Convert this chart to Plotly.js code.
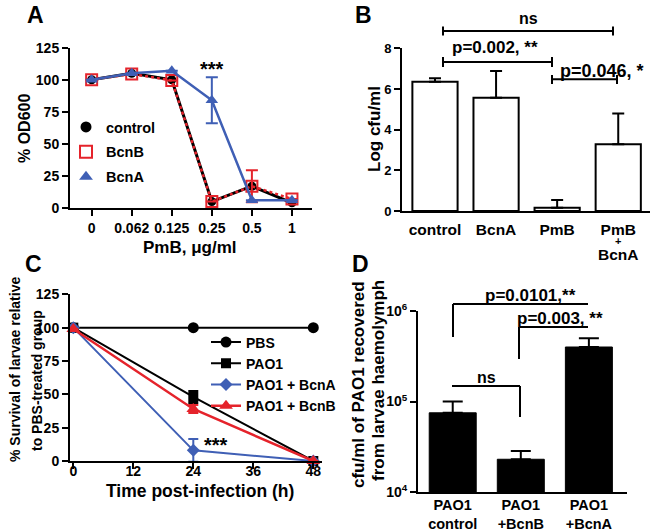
<!DOCTYPE html>
<html><head><meta charset="utf-8">
<script src="https://cdn.plot.ly/plotly-3.0.1.min.js"></script>
<style>html,body{margin:0;padding:0;background:#fff}#chart{width:650px;height:532px}</style>
</head><body><div id="chart"></div>
<script>
// ---------- Panel A ----------
const aDoses = ['0','0.062','0.125','0.25','0.5','1'];
const aControl = [100,105,100,5,17,4];
const aBcnB = [100,104.5,99.5,5,17,7];
const aBcnA = [100,105,107,84,6,6];
const aBcnAErr = [null,null,null,18,null,null];
const aBcnBErr = [null,null,null,null,12.5,null];
const aYTicks = [0,25,50,75,100,125];

// ---------- Panel B ----------
const bGroups = ['control','BcnA','PmB','PmB + BcnA'];
const bTickText = ['control','BcnA','PmB','PmB'];
const bLogCfu = [6.36,5.57,0.16,3.28];
const bErr = [0.17,1.31,0.38,1.52];
const bErrMinus = [0,0,0,0];
const bYTicks = [0,2,4,6,8];

// ---------- Panel C ----------
const cHours = [0,24,48];
const cPBS = [100,100,100];
const cPAO1 = [100,48,0];
const cPAO1Err = [null,4.5,null];
const cBcnA = [100,8,0];
const cBcnAErr = [null,8.5,null];
const cBcnB = [99,39,0];
const cBcnBErr = [null,3,null];
const cXTicks = [0,12,24,36,48];
const cYTicks = [0,25,50,75,100,125];

// ---------- Panel D ----------
const dGroups = ['PAO1 control','PAO1 +BcnB','PAO1 +BcnA'];
const dTickText = ['PAO1<br>control','PAO1<br>+BcnB','PAO1<br>+BcnA'];
const dCfu = [75000,23000,400000];
const dErr = [25000,5400,100000];
const dErrMinus = [0,0,0];
const dYTicks = [1e4,1e5,1e6];
const dYTickText = ['10<sup>4</sup>','10<sup>5</sup>','10<sup>6</sup>'];

// ---------- styles ----------
const W = 650, H = 532;
const fx = p => p / W;
const fy = p => 1 - p / H;
const BLUE = '#3f5fb5', RED = '#e5232b', BLACK = '#000';
const FONT = 'Liberation Sans, Arial, Helvetica, sans-serif';

const baseAxis = {showline:true, linewidth:2, linecolor:BLACK, ticks:'outside', ticklen:6,
  tickwidth:2, tickcolor:BLACK, showgrid:false, zeroline:false, fixedrange:true};

const traces = [
  // Panel A
  {x:aDoses, y:aControl, xaxis:'x', yaxis:'y', mode:'lines+markers', showlegend:false, cliponaxis:false,
   line:{color:BLACK, width:3}, marker:{symbol:'circle', size:9, color:BLACK}},
  {x:aDoses, y:aBcnB, xaxis:'x', yaxis:'y', mode:'lines+markers', showlegend:false, cliponaxis:false,
   line:{color:RED, width:2.5, dash:'dot'}, marker:{symbol:'square-open', size:11, color:RED, line:{width:2, color:RED}},
   error_y:{type:'data', array:aBcnBErr, color:RED, thickness:2, width:6}},
  {x:aDoses, y:aBcnA, xaxis:'x', yaxis:'y', mode:'lines+markers', showlegend:false, cliponaxis:false,
   line:{color:BLUE, width:2.5}, marker:{symbol:'triangle-up', size:11, color:BLUE},
   error_y:{type:'data', array:aBcnAErr, color:BLUE, thickness:2, width:6}},
  // legend entries for A (markers only)
  {x:[null], y:[null], xaxis:'x', yaxis:'y', mode:'markers', name:'control', legend:'legend', legendgroup:'a1',
   marker:{symbol:'circle', size:11, color:BLACK}},
  {x:[null], y:[null], xaxis:'x', yaxis:'y', mode:'markers', name:'BcnB', legend:'legend', legendgroup:'a2',
   marker:{symbol:'square-open', size:12, color:RED, line:{width:2, color:RED}}},
  {x:[null], y:[null], xaxis:'x', yaxis:'y', mode:'markers', name:'BcnA', legend:'legend', legendgroup:'a3',
   marker:{symbol:'triangle-up', size:12, color:BLUE}},
  // Panel B
  {type:'bar', x:bGroups, y:bLogCfu, xaxis:'x2', yaxis:'y2', width:0.74, showlegend:false,
   marker:{color:'#fff', line:{color:BLACK, width:2}},
   error_y:{type:'data', symmetric:false, array:bErr, arrayminus:bErrMinus, color:BLACK, thickness:2, width:6}},
  // Panel C
  {x:cHours, y:cPBS, xaxis:'x3', yaxis:'y3', mode:'lines+markers', name:'PBS', legend:'legend2', cliponaxis:false,
   line:{color:BLACK, width:2}, marker:{symbol:'circle', size:11, color:BLACK}},
  {x:cHours, y:cPAO1, xaxis:'x3', yaxis:'y3', mode:'lines+markers', name:'PAO1', legend:'legend2', cliponaxis:false,
   line:{color:BLACK, width:2}, marker:{symbol:'square', size:10, color:BLACK},
   error_y:{type:'data', array:cPAO1Err, color:BLACK, thickness:2, width:5}},
  {x:cHours, y:cBcnA, xaxis:'x3', yaxis:'y3', mode:'lines+markers', name:'PAO1 + BcnA', legend:'legend2', cliponaxis:false,
   line:{color:BLUE, width:2}, marker:{symbol:'diamond', size:10, color:BLUE},
   error_y:{type:'data', array:cBcnAErr, color:BLUE, thickness:2, width:5}},
  {x:cHours, y:cBcnB, xaxis:'x3', yaxis:'y3', mode:'lines+markers', name:'PAO1 + BcnB', legend:'legend2', cliponaxis:false,
   line:{color:RED, width:2.5}, marker:{symbol:'triangle-up', size:12, color:RED},
   error_y:{type:'data', array:cBcnBErr, color:RED, thickness:2, width:5}},
  // Panel D
  {type:'bar', x:dGroups, y:dCfu, xaxis:'x4', yaxis:'y4', width:0.69, showlegend:false,
   marker:{color:BLACK, line:{color:BLACK, width:1}},
   error_y:{type:'data', symmetric:false, array:dErr, arrayminus:dErrMinus, color:BLACK, thickness:2, width:10}}
];

// text helper (pixel centre -> paper)
const txt = (s, px, py, size, opts={}) => Object.assign({text:s, x:fx(px), y:fy(py), xref:'paper', yref:'paper',
  xanchor:'center', yanchor:'middle', showarrow:false, font:{size:size}}, opts);
const seg = (x0,y0,x1,y1) => ({type:'line', xref:'paper', yref:'paper', x0:fx(x0), y0:fy(y0), x1:fx(x1), y1:fy(y1),
  line:{color:BLACK, width:2}});

const annotations = [
  txt('A', 35, 15, 23), txt('B', 363, 15, 23), txt('C', 33, 264, 23), txt('D', 360, 264, 23),
  // A
  txt('PmB, μg/ml', 190, 247, 17),
  txt('% OD600', 25, 129, 16, {textangle:-90}),
  txt('***', 212, 69, 20),
  // B
  txt('Log cfu/ml', 375, 129, 17, {textangle:-90}),
  txt('ns', 528, 19, 16),
  txt('p=0.002, **', 495, 47, 17),
  txt('p=0.046, *', 602, 71, 18),
  txt('+', 618, 241, 11),
  txt('BcnA', 618, 254, 15.5),
  // C
  txt('Time post-infection (h)', 200, 491, 17.5),
  txt('% Survival of larvae relative', 15, 370, 14, {textangle:-90}),
  txt('to PBS-treated group', 37, 381, 14, {textangle:-90}),
  txt('***', 216, 445, 20),
  // D
  txt('cfu/ml of PAO1 recovered', 358, 385, 17, {textangle:-90}),
  txt('from larvae haemolymph', 378, 381, 17, {textangle:-90}),
  txt('p=0.0101,**', 530, 295, 17),
  txt('p=0.003, **', 560, 318, 17),
  txt('ns', 486, 377, 16)
];

const shapes = [
  // B brackets
  seg(443,31,613,31), seg(443,26.5,443,35.5), seg(613,26.5,613,35.5),
  seg(443,62,552,62), seg(443,57,443,67), seg(552,57,552,67),
  seg(552,79.3,617,79.3), seg(552,75,552,84), seg(617,75,617,84),
  // D brackets
  seg(453,304,588,304), seg(453,304,453,337),
  seg(519,327,588,327), seg(519,327,519,359),
  seg(452,386,520,386), seg(520,386,520,417)
];

const layout = {
  width:W, height:H, margin:{l:0,r:0,t:0,b:0}, paper_bgcolor:'#fff', plot_bgcolor:'rgba(0,0,0,0)',
  font:{family:FONT, size:14, color:BLACK, weight:'bold'},
  showlegend:true,
  xaxis:Object.assign({}, baseAxis, {anchor:'y', domain:[fx(70),fx(312)], type:'category', range:[-0.54,5.5],
    tickfont:{size:14}}),
  yaxis:Object.assign({}, baseAxis, {anchor:'x', domain:[fy(208),fy(47.7)], range:[0,125], tickvals:aYTicks,
    tickfont:{size:14}}),
  xaxis2:Object.assign({}, baseAxis, {anchor:'y2', domain:[fx(402),1], type:'category', range:[-0.54,3.52],
    ticks:'', tickvals:bGroups, ticktext:bTickText, tickfont:{size:15.5}, ticklabelstandoff:3}),
  yaxis2:Object.assign({}, baseAxis, {anchor:'x2', domain:[fy(211),fy(48.3)], range:[0,8], tickvals:bYTicks,
    tickfont:{size:13}}),
  xaxis3:Object.assign({}, baseAxis, {anchor:'y3', domain:[fx(70),fx(321.7)], range:[-0.66,49.68], tickvals:cXTicks,
    tickfont:{size:14}, ticklabelstandoff:-10}),
  yaxis3:Object.assign({}, baseAxis, {anchor:'x3', domain:[fy(461),fy(294.3)], range:[0,125], tickvals:cYTicks,
    tickfont:{size:14}}),
  xaxis4:Object.assign({}, baseAxis, {anchor:'y4', domain:[fx(418),fx(627)], type:'category', range:[-0.51,2.56],
    ticks:'', tickvals:dGroups, ticktext:dTickText, tickfont:{size:14.5}, ticklabelstandoff:-1}),
  yaxis4:Object.assign({}, baseAxis, {anchor:'x4', domain:[fy(492),fy(311)], type:'log', range:[4,6],
    tickvals:dYTicks, ticktext:dYTickText, tickfont:{size:14}}),
  legend:{x:fx(66), y:fy(111), xanchor:'left', yanchor:'top', bgcolor:'rgba(0,0,0,0)', borderwidth:0,
    font:{size:14.5}, tracegroupgap:3, itemwidth:30, traceorder:'grouped'},
  legend2:{x:fx(206), y:fy(326.5), xanchor:'left', yanchor:'top', bgcolor:'rgba(0,0,0,0)', borderwidth:0,
    font:{size:14}, tracegroupgap:0, itemwidth:30},
  annotations:annotations,
  shapes:shapes
};

Plotly.newPlot('chart', traces, layout, {displayModeBar:false, staticPlot:true});
</script>
</body></html>
